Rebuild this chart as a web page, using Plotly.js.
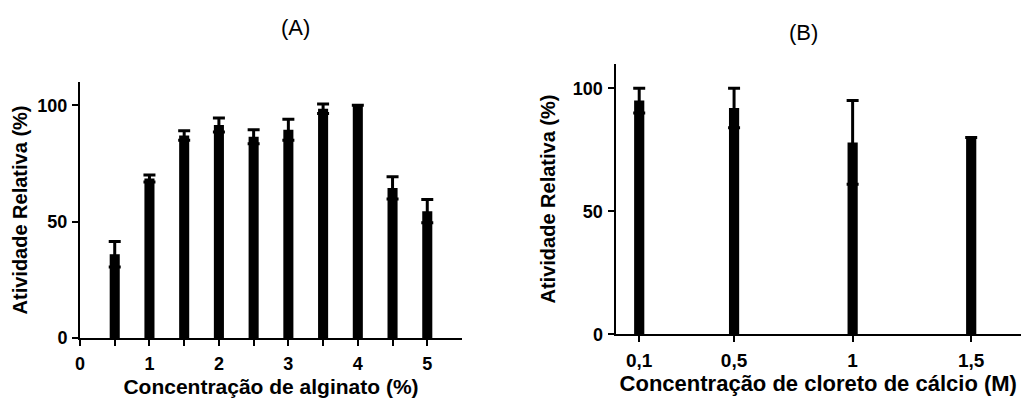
<!DOCTYPE html>
<html>
<head>
<meta charset="utf-8">
<script src="https://cdn.plot.ly/plotly-3.0.1.min.js"></script>
<style>html,body{margin:0;padding:0;background:#fff;}#chart{width:1021px;height:398px;}</style>
</head>
<body>
<div id="chart"></div>
<script>
// Panel A: alginate concentration
const alginateX = [0.5, 1, 1.5, 2, 2.5, 3, 3.5, 4, 4.5, 5];
const alginateY = [36, 68.5, 87, 91.5, 86.5, 89.5, 98.5, 100, 64.5, 54.5];
const alginateErr = [5.5, 1.5, 2, 3, 3, 4.5, 2, 0, 4.8, 5];
const alginateTickVals = [0, 0.5, 1, 1.5, 2, 2.5, 3, 3.5, 4, 4.5, 5];
const alginateTickText = ['0', '', '1', '', '2', '', '3', '', '4', '', '5'];

// Panel B: calcium chloride concentration
const calcioX = [0.1, 0.5, 1, 1.5];
const calcioY = [95, 92, 78, 80];
const calcioErr = [5, 8, 17, 0];
const calcioTickText = ['0,1', '0,5', '1', '1,5'];

const yTickVals = [0, 50, 100];

const font = 'Liberation Sans, Arial, sans-serif';

const traces = [
  {
    type: 'bar', x: alginateX, y: alginateY, width: 0.145,
    marker: {color: '#000', line: {width: 0}},
    error_y: {type: 'data', array: alginateErr, visible: true, color: '#000', thickness: 3, width: 6},
    xaxis: 'x', yaxis: 'y', hoverinfo: 'skip'
  },
  {
    type: 'bar', x: calcioX, y: calcioY, width: 0.043,
    marker: {color: '#000', line: {width: 0}},
    error_y: {type: 'data', array: calcioErr, visible: true, color: '#000', thickness: 3, width: 6},
    xaxis: 'x2', yaxis: 'y2', hoverinfo: 'skip'
  }
];

const axisCommon = {
  showline: true, linewidth: 2, linecolor: '#000', mirror: false,
  ticks: 'outside', ticklen: 6, tickwidth: 2, tickcolor: '#000',
  showgrid: false, zeroline: false, fixedrange: true
};

const layout = {
  width: 1021, height: 398,
  margin: {l: 0, r: 0, t: 0, b: 0},
  paper_bgcolor: '#fff', plot_bgcolor: '#fff',
  showlegend: false,
  font: {family: font, color: '#000'},
  xaxis: Object.assign({}, axisCommon, {
    domain: [80/1021, 462/1021], range: [0, 5.5], anchor: 'y',
    tickmode: 'array', tickvals: alginateTickVals, ticktext: alginateTickText,
    tickfont: {size: 18, family: font, weight: 'bold'}, ticklabelstandoff: 2,
    title: {text: 'Concentração de alginato (%)', font: {size: 21, family: font, weight: 'bold'}, standoff: 8}
  }),
  yaxis: Object.assign({}, axisCommon, {
    domain: [(398-338)/398, (398-82)/398], range: [0, 110], anchor: 'x',
    tickmode: 'array', tickvals: yTickVals,
    tickfont: {size: 18, family: font, weight: 'bold'}, ticklabelstandoff: 1,
    title: {text: 'Atividade Relativa (%)', font: {size: 20, family: font, weight: 'bold'}, standoff: 4}
  }),
  xaxis2: Object.assign({}, axisCommon, {
    domain: [615.5/1021, 1], range: [0, 1.71], anchor: 'y2',
    tickmode: 'array', tickvals: calcioX, ticktext: calcioTickText,
    tickfont: {size: 19, family: font, weight: 'bold'}, ticklabelstandoff: 2,
    title: {text: 'Concentração de cloreto de cálcio (M)', font: {size: 22, family: font, weight: 'bold'}, standoff: 2}
  }),
  yaxis2: Object.assign({}, axisCommon, {
    domain: [(398-334.3)/398, (398-63.7)/398], range: [0, 110], anchor: 'x2',
    tickmode: 'array', tickvals: yTickVals,
    tickfont: {size: 18, family: font, weight: 'bold'}, ticklabelstandoff: 1,
    title: {text: 'Atividade Relativa (%)', font: {size: 20, family: font, weight: 'bold'}, standoff: 12}
  }),
  annotations: [
    {text: '(A)', x: 295/1021, y: (398-27)/398, xref: 'paper', yref: 'paper', showarrow: false,
     xanchor: 'center', yanchor: 'middle', font: {size: 22, family: font, color: '#000'}},
    {text: '(B)', x: 803/1021, y: (398-33)/398, xref: 'paper', yref: 'paper', showarrow: false,
     xanchor: 'center', yanchor: 'middle', font: {size: 22, family: font, color: '#000'}}
  ]
};

Plotly.newPlot('chart', traces, layout, {displayModeBar: false, staticPlot: true});
</script>
</body>
</html>
